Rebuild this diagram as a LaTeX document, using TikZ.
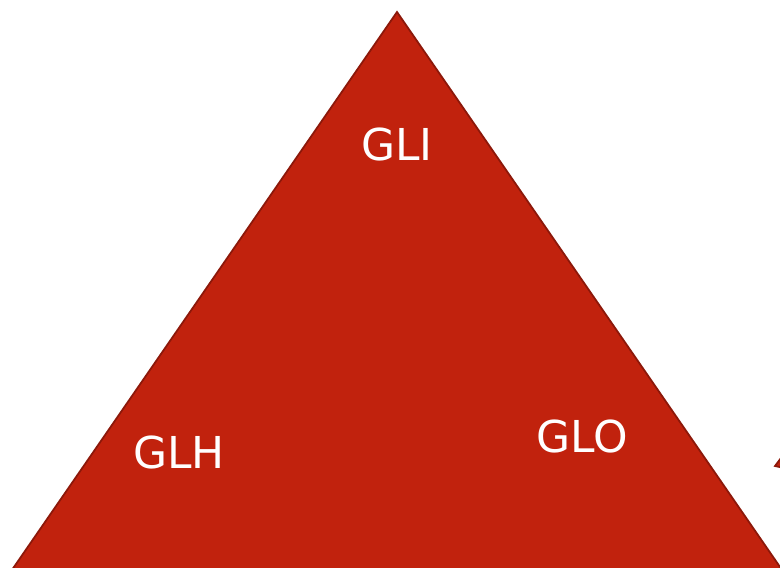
\documentclass[tikz,border=0pt]{standalone}
\usepackage{fontspec}
\setsansfont{DejaVu Sans}
\usetikzlibrary{positioning}
\definecolor{TriRed}{RGB}{193,34,13}
\definecolor{TriEdge}{RGB}{140,24,10}
\tikzset{
  corner/.style={font=\sffamily\fontsize{12.5}{14}\selectfont, text=white},
  tri/.style={fill=TriRed, draw=TriEdge, line width=0.5pt, line join=miter}
}
\begin{document}
\begin{tikzpicture}[x=0.01cm, y=-0.01cm]
  \useasboundingbox (0,0) rectangle (780,568);
  \clip (0,0) rectangle (780,568);
  % triangle
  \coordinate (top) at (397,12);
  \coordinate (left) at (5,580);
  \coordinate (right) at (789,580);
  \draw[tri] (top) -- (right) -- (left) -- cycle;
  % tip of a shape just outside the frame
  \coordinate (tipA) at (775,466);
  \coordinate (tipB) at (784,454);
  \coordinate (tipC) at (784,468);
  \draw[tri] (tipA) -- (tipB) -- (tipC) -- cycle;
  % labels
  \node[corner] (gli) at (397,145) {GLI};
  \node[corner] (glh) at (179,452) {GLH};
  \node[corner] (glo) at (582,437) {GLO};
\end{tikzpicture}
\end{document}
